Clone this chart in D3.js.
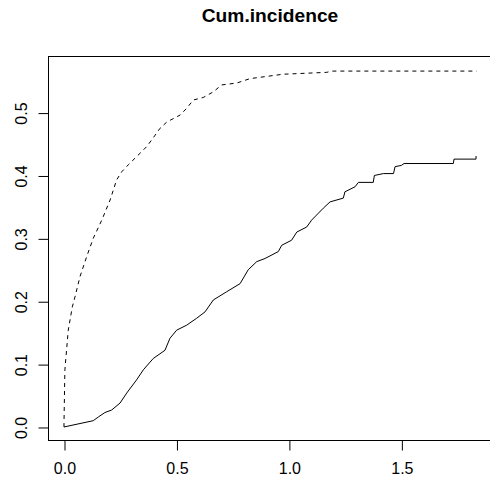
<!DOCTYPE html>
<html>
<head>
<meta charset="utf-8">
<script src="https://cdn.jsdelivr.net/npm/d3@7"></script>
<style>
  html, body { margin: 0; padding: 0; background: #fff; overflow: hidden; }
  svg { display: block; font-family: "Liberation Sans", Arial, Helvetica, sans-serif; }
</style>
</head>
<body>
<svg id="chart" width="490" height="477"></svg>
<script>
// ---- data ----
const chartTitle = "Cum.incidence";

// solid curve (cause 1)
const solidTime = [0, 0.130, 0.153, 0.182, 0.212, 0.249, 0.279, 0.323, 0.353, 0.397, 0.449, 0.471, 0.501, 0.546, 0.590, 0.627, 0.664, 0.723, 0.783, 0.819, 0.857, 0.894, 0.953, 0.968, 1.012, 1.035, 1.079, 1.101, 1.153, 1.183, 1.242, 1.249, 1.294, 1.309, 1.375, 1.380, 1.420, 1.465, 1.472, 1.500, 1.512, 1.731, 1.734, 1.832, 1.832];
const solidInc  = [0, 0.010, 0.016, 0.023, 0.027, 0.038, 0.054, 0.075, 0.091, 0.109, 0.122, 0.141, 0.154, 0.162, 0.173, 0.183, 0.202, 0.215, 0.228, 0.250, 0.263, 0.268, 0.279, 0.289, 0.297, 0.310, 0.318, 0.329, 0.348, 0.358, 0.364, 0.374, 0.382, 0.389, 0.389, 0.400, 0.403, 0.403, 0.414, 0.416, 0.419, 0.419, 0.426, 0.426, 0.431];

// dashed curve (cause 2)
const dashedTime = [0, 0, 0.004, 0.019, 0.037, 0.049, 0.071, 0.101, 0.130, 0.168, 0.205, 0.234, 0.257, 0.286, 0.323, 0.368, 0.405, 0.427, 0.457, 0.516, 0.546, 0.575, 0.619, 0.664, 0.701, 0.768, 0.827, 0.974, 1.168, 1.190, 1.835];
const dashedInc  = [0, 0.006, 0.091, 0.154, 0.191, 0.207, 0.239, 0.271, 0.300, 0.329, 0.361, 0.393, 0.406, 0.417, 0.430, 0.446, 0.464, 0.475, 0.485, 0.496, 0.507, 0.520, 0.524, 0.533, 0.544, 0.547, 0.554, 0.561, 0.564, 0.566, 0.566];

const xTicks = [0, 0.5, 1.0, 1.5];
const xTickLabels = ["0.0", "0.5", "1.0", "1.5"];
const yTicks = [0, 0.1, 0.2, 0.3, 0.4, 0.5];
const yTickLabels = ["0.0", "0.1", "0.2", "0.3", "0.4", "0.5"];

// ---- layout ----
const svg = d3.select("#chart");
const plot = { left: 48, right: 492, top: 56, bottom: 440 };

const x = d3.scaleLinear().domain([-0.0711, 1.903]).range([plot.left, plot.right]);
const y = d3.scaleLinear().domain([-0.0207, 0.590]).range([plot.bottom, plot.top]);

// title
svg.append("text")
  .attr("x", (plot.left + plot.right) / 2)
  .attr("y", 22)
  .attr("text-anchor", "middle")
  .attr("font-size", "19.2px")
  .attr("font-weight", "bold")
  .attr("fill", "#000")
  .text(chartTitle);

// curves
const solidData = solidTime.map((t, i) => [t, solidInc[i]]);
const dashedData = dashedTime.map((t, i) => [t, dashedInc[i]]);
const line = d3.line().x(d => x(d[0])).y(d => y(d[1])).curve(d3.curveLinear);

svg.append("path")
  .datum(dashedData)
  .attr("d", line)
  .attr("fill", "none")
  .attr("stroke", "#000")
  .attr("stroke-width", 1)
  .attr("stroke-dasharray", "4,4");

svg.append("path")
  .datum(solidData)
  .attr("d", line)
  .attr("fill", "none")
  .attr("stroke", "#000")
  .attr("stroke-width", 1);

// box
svg.append("rect")
  .attr("x", plot.left + 0.5)
  .attr("y", plot.top + 0.5)
  .attr("width", plot.right - plot.left)
  .attr("height", plot.bottom - plot.top)
  .attr("fill", "none")
  .attr("stroke", "#000")
  .attr("stroke-width", 1);

// x axis
const xAxis = d3.axisBottom(x)
  .tickValues(xTicks)
  .tickFormat((d, i) => xTickLabels[i])
  .tickSize(10)
  .tickPadding(23);
const gx = svg.append("g")
  .attr("transform", `translate(0.5,${plot.bottom + 0.5})`)
  .call(xAxis);
gx.select(".domain").attr("d", `M${x(xTicks[0])},0H${x(xTicks[xTicks.length - 1])}`);
gx.selectAll("text").attr("font-size", "16px").attr("font-family", "Liberation Sans, Arial, sans-serif").attr("fill", "#000").attr("dy", "0");
gx.selectAll("line, path").attr("stroke", "#000");

// y axis
const yAxis = d3.axisLeft(y)
  .tickValues(yTicks)
  .tickFormat((d, i) => yTickLabels[i])
  .tickSize(10);
const gy = svg.append("g")
  .attr("transform", `translate(${plot.left + 0.5},0.5)`)
  .call(yAxis);
gy.select(".domain").attr("d", `M0,${y(yTicks[0])}V${y(yTicks[yTicks.length - 1])}`);
gy.selectAll("line, path").attr("stroke", "#000");
gy.selectAll(".tick text")
  .attr("font-size", "16px")
  .attr("font-family", "Liberation Sans, Arial, sans-serif")
  .attr("fill", "#000")
  .attr("x", null)
  .attr("dy", null)
  .attr("text-anchor", "middle")
  .attr("transform", "translate(-21.5,0) rotate(-90)");
</script>
</body>
</html>
